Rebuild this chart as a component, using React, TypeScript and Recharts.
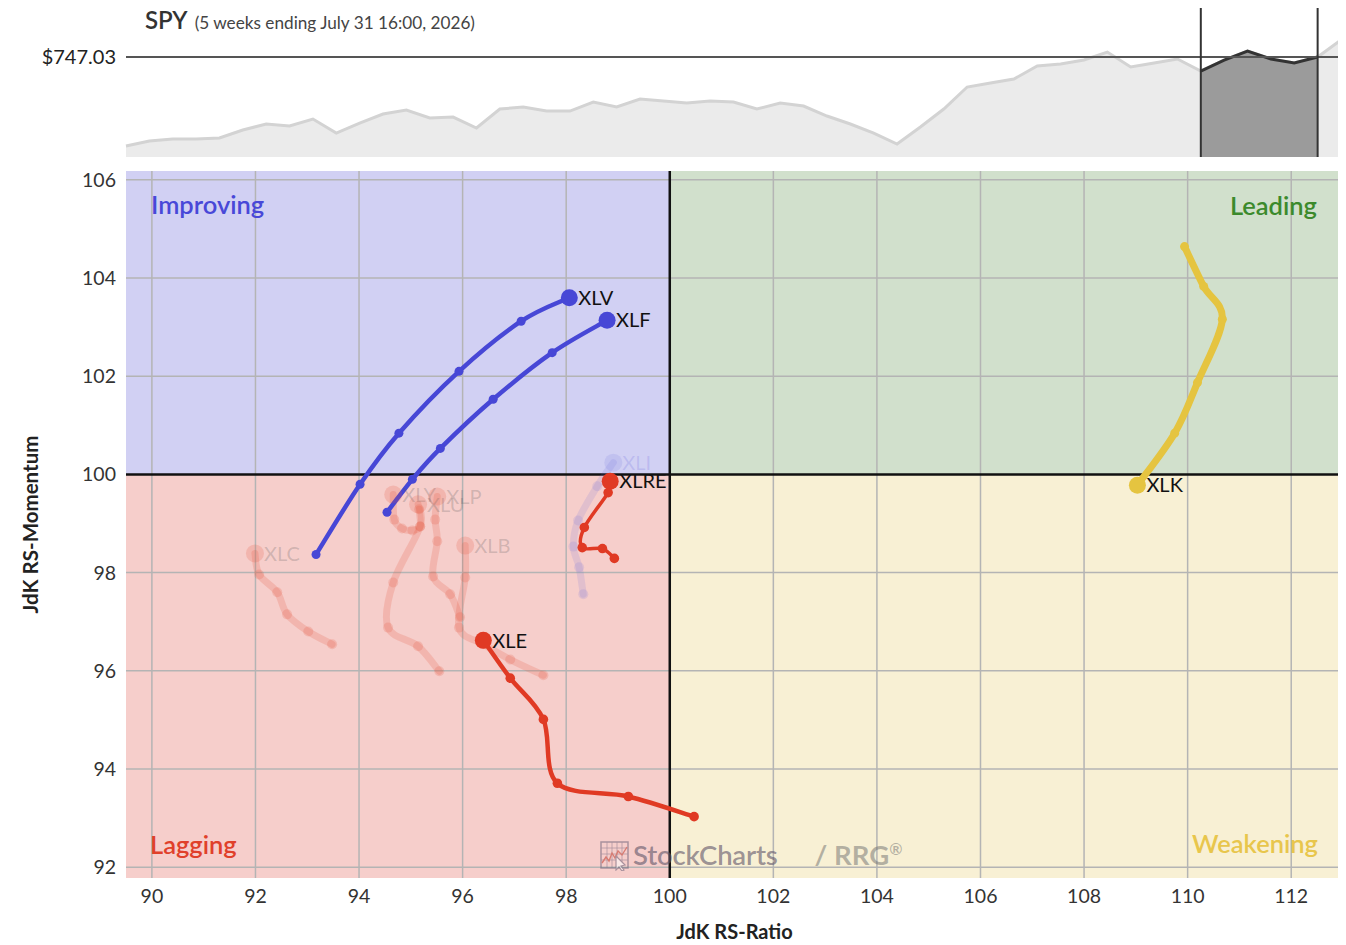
import React from 'react';
import { ComposedChart, Area, Line, XAxis, YAxis, ReferenceLine, ReferenceArea } from 'recharts';

// ---------- SPY price strip ----------
const spyClose = [
  658.0, 663.0, 665.0, 665.0, 666.0, 674.0, 680.0, 678.0, 685.0, 671.0,
  681.0, 690.0, 694.0, 686.0, 687.0, 676.0, 695.0, 697.0, 693.0, 693.0,
  702.0, 697.0, 705.0, 703.0, 701.0, 703.0, 702.0, 695.0, 701.0, 698.0,
  688.0, 680.0, 671.0, 660.0, 677.0, 695.0, 717.0, 721.0, 725.0, 738.0,
  740.0, 744.0, 752.0, 737.0, 741.0, 745.0, 733.0, 744.0, 753.0, 745.0,
  741.0, 747.03, 764.0,
];
const spyLast = 747.03;
const tailFirstWeek = 46;
const tailLastWeek = 51;

// ---------- RRG tails (oldest -> latest) ----------
const sectorNames = ['XLI', 'XLC', 'XLY', 'XLU', 'XLP', 'XLB', 'XLK', 'XLRE', 'XLE', 'XLF', 'XLV'];

const xliRatio = [98.33, 98.25, 98.14, 98.23, 98.6, 98.91];
const xliMomentum = [97.56, 98.11, 98.53, 99.06, 99.76, 100.24];
const xlcRatio = [93.48, 93.02, 92.61, 92.42, 92.07, 91.99];
const xlcMomentum = [96.54, 96.8, 97.15, 97.6, 97.96, 98.39];
const xlyRatio = [95.16, 95.18, 95.03, 94.83, 94.68, 94.66];
const xlyMomentum = [99.29, 98.94, 98.86, 98.9, 99.08, 99.59];
const xluRatio = [95.55, 95.14, 94.56, 94.66, 95.18, 95.14];
const xluMomentum = [95.99, 96.5, 96.88, 97.8, 98.94, 99.39];
const xlpRatio = [95.95, 95.76, 95.43, 95.51, 95.47, 95.51];
const xlpMomentum = [97.09, 97.56, 97.92, 98.64, 99.08, 99.55];
const xlbRatio = [97.56, 96.92, 96.4, 95.93, 96.05, 96.05];
const xlbMomentum = [95.91, 96.23, 96.54, 96.88, 97.9, 98.55];
const xlkRatio = [109.94, 110.31, 110.67, 110.19, 109.75, 109.03];
const xlkMomentum = [104.64, 103.83, 103.16, 101.87, 100.84, 99.78];
const xlreRatio = [98.93, 98.7, 98.31, 98.35, 98.81, 98.85];
const xlreMomentum = [98.29, 98.49, 98.51, 98.92, 99.63, 99.86];
const xleRatio = [100.47, 99.2, 97.83, 97.56, 96.92, 96.4];
const xleMomentum = [93.03, 93.44, 93.71, 95.01, 95.85, 96.62];
const xlfRatio = [94.54, 95.03, 95.57, 96.59, 97.73, 98.79];
const xlfMomentum = [99.23, 99.9, 100.53, 101.53, 102.48, 103.14];
const xlvRatio = [93.17, 94.02, 94.77, 95.93, 97.13, 98.06];
const xlvMomentum = [98.37, 99.8, 100.84, 102.1, 103.12, 103.6];

const ratioTicks = [90, 92, 94, 96, 98, 100, 102, 104, 106, 108, 110, 112];
const momentumTicks = [92, 94, 96, 98, 100, 102, 104, 106];

const tails: Record<string, [number[], number[]]> = {
  XLI: [xliRatio, xliMomentum],
  XLC: [xlcRatio, xlcMomentum],
  XLY: [xlyRatio, xlyMomentum],
  XLU: [xluRatio, xluMomentum],
  XLP: [xlpRatio, xlpMomentum],
  XLB: [xlbRatio, xlbMomentum],
  XLK: [xlkRatio, xlkMomentum],
  XLRE: [xlreRatio, xlreMomentum],
  XLE: [xleRatio, xleMomentum],
  XLF: [xlfRatio, xlfMomentum],
  XLV: [xlvRatio, xlvMomentum],
};

type Style = { color: string; width: number; dotR: number; headR: number; opacity: number; labelColor: string; labelOpacity: number };
const fadedRed: Style = { color: '#e4553c', width: 7, dotR: 5, headR: 9, opacity: 0.2, labelColor: '#555', labelOpacity: 0.24 };
const styles: Record<string, Style> = {
  XLI: { color: '#6e6ee0', width: 7, dotR: 5, headR: 9, opacity: 0.15, labelColor: '#6e6ee0', labelOpacity: 0.22 },
  XLC: fadedRed,
  XLY: fadedRed,
  XLU: fadedRed,
  XLP: fadedRed,
  XLB: fadedRed,
  XLK: { color: '#e5c440', width: 7, dotR: 4.5, headR: 8.5, opacity: 1, labelColor: '#111', labelOpacity: 1 },
  XLRE: { color: '#e03a24', width: 3.5, dotR: 4.8, headR: 8.5, opacity: 1, labelColor: '#111', labelOpacity: 1 },
  XLE: { color: '#e03a24', width: 4.5, dotR: 4.8, headR: 8.5, opacity: 1, labelColor: '#111', labelOpacity: 1 },
  XLF: { color: '#4747d6', width: 4.5, dotR: 4.5, headR: 8.5, opacity: 1, labelColor: '#111', labelOpacity: 1 },
  XLV: { color: '#4747d6', width: 4.5, dotR: 4.5, headR: 8.5, opacity: 1, labelColor: '#111', labelOpacity: 1 },
};

// Catmull-Rom curve factory (parametric, works with non-monotonic x)
const catmullRom: any = (context: any) => {
  let pts: number[][] = [];
  return {
    areaStart() {},
    areaEnd() {},
    lineStart() {
      pts = [];
    },
    point(x: number, y: number) {
      pts.push([+x, +y]);
    },
    lineEnd() {
      if (!pts.length) return;
      context.moveTo(pts[0][0], pts[0][1]);
      for (let i = 0; i < pts.length - 1; i++) {
        const p0 = pts[i - 1] || pts[i];
        const p1 = pts[i];
        const p2 = pts[i + 1];
        const p3 = pts[i + 2] || p2;
        const c1x = p1[0] + (p2[0] - p0[0]) / 6;
        const c1y = p1[1] + (p2[1] - p0[1]) / 6;
        const c2x = p2[0] - (p3[0] - p1[0]) / 6;
        const c2y = p2[1] - (p3[1] - p1[1]) / 6;
        context.bezierCurveTo(c1x, c1y, c2x, c2y, p2[0], p2[1]);
      }
    },
  };
};

const FONT = 'Lato, "Noto Sans", sans-serif';

const XMIN = 89.5;
const XMAX = 113;
const YMIN = 91.78;
const YMAX = 106.18;

const makeDot = (name: string, count: number) => (props: any) => {
  const { cx, cy, index } = props;
  const s = styles[name];
  const last = index === count - 1;
  if (cx == null || cy == null) return <g key={`${name}-${index}`} />;
  return (
    <g key={`${name}-${index}`}>
      <circle cx={cx} cy={cy} r={last ? s.headR : s.dotR} fill={s.color} fillOpacity={s.opacity} />
      {last && (
        <text x={cx + 9} y={cy} dy="0.36em" fontSize={20} fill={s.labelColor} fillOpacity={s.labelOpacity} fontFamily={FONT}>
          {name}
        </text>
      )}
    </g>
  );
};

const YLabel = (props: any) => {
  const vb = props.viewBox || { x: 0, y: 0, width: 0, height: 0 };
  const x = vb.x + 22;
  const y = vb.y + vb.height / 2;
  return (
    <text x={x} y={y} transform={`rotate(-90 ${x} ${y})`} textAnchor="middle" dominantBaseline="central" fontSize={20.5} fontWeight={700} fill="#222" fontFamily={FONT}>
      JdK RS-Momentum
    </text>
  );
};

const quadLabel = { fontSize: 25.5, fontWeight: 600, fontFamily: FONT };

export default function App() {
  const spyData = spyClose.map((v, i) => ({
    i,
    close: v,
    tail: i >= tailFirstWeek && i <= tailLastWeek ? v : null,
  }));

  const gridX = ratioTicks.filter((t) => t !== 100);
  const gridY = momentumTicks.filter((t) => t !== 100);

  return (
    <div style={{ position: 'relative', width: 1338, height: 937, fontFamily: FONT, background: '#fff' }}>
      {/* SPY strip */}
      <div style={{ position: 'absolute', left: 0, top: 0 }}>
        <ComposedChart width={1338} height={152} data={spyData} margin={{ top: 0, right: 5, bottom: 3, left: 0 }}>
          <XAxis dataKey="i" type="number" domain={[0, 52]} hide />
          <YAxis
            type="number"
            domain={[647.03, 796.03]}
            allowDataOverflow
            ticks={[spyLast]}
            width={118}
            axisLine={false}
            tickLine={false}
            tickSize={0}
            tickMargin={10}
            tickFormatter={(v: number) => `$${v.toFixed(2)}`}
            tick={{ fill: '#222', fontSize: 20, fontFamily: FONT }}
          />
          <Area dataKey="close" type="linear" stroke="#d3d3d3" strokeWidth={3} fill="#ebebeb" fillOpacity={1} baseValue="dataMin" isAnimationActive={false} dot={false} activeDot={false} />
          <Area dataKey="tail" type="linear" stroke="#333" strokeWidth={3} fill="#9b9b9b" fillOpacity={1} baseValue="dataMin" isAnimationActive={false} dot={false} activeDot={false} connectNulls={false} />
          <ReferenceLine y={spyLast} stroke="#555" strokeWidth={2} />
          <ReferenceLine x={tailFirstWeek} stroke="#333" strokeWidth={2} />
          <ReferenceLine x={tailLastWeek} stroke="#333" strokeWidth={2} />
        </ComposedChart>
      </div>
      <div style={{ position: 'absolute', left: 137, top: -3, whiteSpace: 'nowrap', color: '#333' }}>
        <span style={{ fontSize: 24, fontWeight: 600, lineHeight: '30px' }}>SPY</span>
        <span style={{ fontSize: 17.2, color: '#444', marginLeft: 7 }}>(5 weeks ending July 31 16:00, 2026)</span>
      </div>

      {/* RRG */}
      <div style={{ position: 'absolute', left: 0, top: 150 }}>
        <ComposedChart width={1338} height={787} margin={{ top: 13, right: 3, bottom: 7, left: 0 }}>
          <XAxis
            dataKey="x"
            type="number"
            domain={[XMIN, XMAX]}
            allowDataOverflow
            ticks={ratioTicks}
            axisLine={false}
            tickLine={false}
            tickSize={0}
            tickMargin={11}
            height={60}
            tick={{ fill: '#333', fontSize: 19.5, fontFamily: FONT }}
            label={{ value: 'JdK RS-Ratio', position: 'insideBottom', offset: -1, fill: '#222', fontSize: 20, fontWeight: 700, fontFamily: FONT }}
          />
          <YAxis
            type="number"
            domain={[YMIN, YMAX]}
            allowDataOverflow
            ticks={momentumTicks}
            axisLine={false}
            tickLine={false}
            tickSize={0}
            tickMargin={10}
            width={118}
            tick={{ fill: '#333', fontSize: 19.5, fontFamily: FONT }}
            label={{ content: YLabel }}
          />
          <ReferenceArea x1={XMIN} x2={100} y1={100} y2={YMAX} fill="#d1d0f3" fillOpacity={1} stroke="none"
            label={{ value: 'Improving', position: 'insideTopLeft', offset: 25, fill: '#4848d8', ...quadLabel }} />
          <ReferenceArea x1={100} x2={XMAX} y1={100} y2={YMAX} fill="#d1e0cc" fillOpacity={1} stroke="none"
            label={{ value: 'Leading', position: 'insideTopRight', offset: 26, fill: '#3c8a2c', ...quadLabel }} />
          <ReferenceArea x1={XMIN} x2={100} y1={YMIN} y2={100} fill="#f6cecb" fillOpacity={1} stroke="none"
            label={{ value: 'Lagging', position: 'insideBottomLeft', offset: 24, fill: '#e0402a', ...quadLabel }} />
          <ReferenceArea x1={100} x2={XMAX} y1={YMIN} y2={100} fill="#f8f0d4" fillOpacity={1} stroke="none"
            label={{ value: 'Weakening', position: 'insideBottomRight', offset: 25, fill: '#e8c64c', ...quadLabel }} />

          {gridX.map((t) => (
            <ReferenceLine key={`gx${t}`} x={t} stroke="#b4b4b4" strokeWidth={1.5} />
          ))}
          {gridY.map((t) => (
            <ReferenceLine key={`gy${t}`} y={t} stroke="#b4b4b4" strokeWidth={1.5} />
          ))}
          <ReferenceLine x={100} stroke="#111" strokeWidth={2.5} />
          <ReferenceLine y={100} stroke="#111" strokeWidth={2.5} />

          {sectorNames.map((name) => {
            const [rx, my] = tails[name];
            const pts = rx.map((x, k) => ({ x, y: my[k] }));
            const s = styles[name];
            return (
              <Line
                key={name}
                data={pts}
                dataKey="y"
                type={catmullRom}
                stroke={s.color}
                strokeOpacity={s.opacity}
                strokeWidth={s.width}
                strokeLinecap="round"
                strokeLinejoin="round"
                dot={makeDot(name, pts.length)}
                activeDot={false}
                isAnimationActive={false}
              />
            );
          })}
        </ComposedChart>
      </div>

      {/* watermark */}
      <div style={{ position: 'absolute', left: 592, top: 830, display: 'flex', alignItems: 'center', pointerEvents: 'none', whiteSpace: 'nowrap' }}>
        <svg width={32} height={32} viewBox="0 0 32 32" style={{ opacity: 0.55 }}>
          <rect x={1} y={3} width={27} height={26} fill="none" stroke="#6b6078" strokeWidth={1.5} />
          {[7, 12, 17, 22].map((g) => (
            <line key={`v${g}`} x1={g} y1={3} x2={g} y2={29} stroke="#6b6078" strokeWidth={0.7} />
          ))}
          {[9, 15, 21].map((g) => (
            <line key={`h${g}`} x1={1} y1={g} x2={28} y2={g} stroke="#6b6078" strokeWidth={0.7} />
          ))}
          <polyline points="2,24 6,18 9,22 12,14 15,19 18,12 22,16 27,8" fill="none" stroke="#c0392b" strokeWidth={1.4} />
          <polygon points="16,17 16,31 19,28 22,32 24,31 21,27 25,26" fill="#fff" stroke="#6b6078" strokeWidth={1.2} />
        </svg>
        <span style={{ fontSize: 27.5, fontWeight: 600, color: 'rgba(95,85,105,0.62)', marginLeft: 1, letterSpacing: -0.2 }}>StockCharts</span>
        <span style={{ fontSize: 27.5, fontWeight: 700, color: 'rgba(110,110,110,0.5)', marginLeft: 37 }}>
          / RRG<sup style={{ fontSize: 16, fontWeight: 600 }}>®</sup>
        </span>
      </div>
    </div>
  );
}
